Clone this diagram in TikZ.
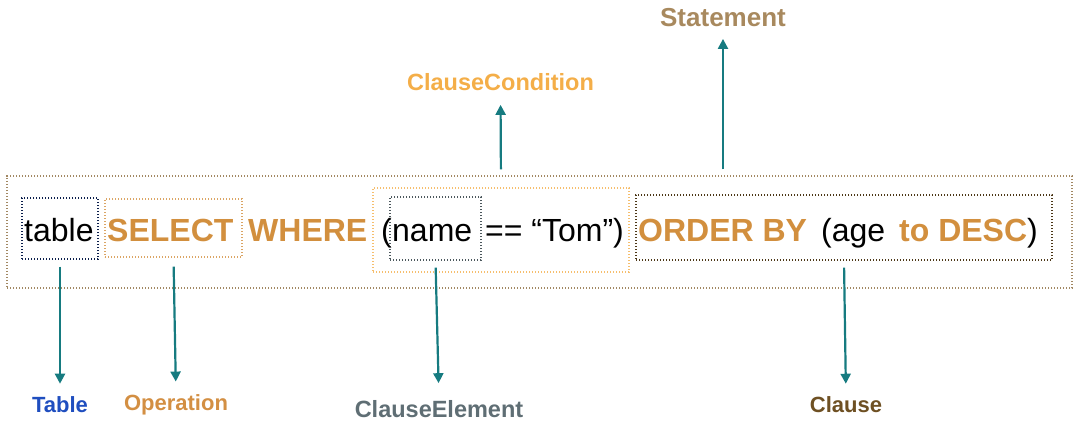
\documentclass[tikz,border=0pt]{standalone}
\usepackage{fontspec}
\setmainfont{Liberation Sans}
\usetikzlibrary{arrows.meta}
\definecolor{kwd}{HTML}{D28F3E}
\definecolor{teal}{HTML}{167B80}
\definecolor{tblc}{HTML}{1F4EBF}
\definecolor{opc}{HTML}{D38F43}
\definecolor{elc}{HTML}{5F6E74}
\definecolor{clc}{HTML}{6E5023}
\definecolor{cdc}{HTML}{F4AE48}
\definecolor{stc}{HTML}{A8895E}
\begin{document}
\begin{tikzpicture}[x=1pt, y=-1pt, >={Triangle[length=10pt,width=10pt]},
  word/.style={anchor=base west, inner sep=0pt, font=\fontsize{32}{38}\selectfont},
  kw/.style={word, font=\fontsize{32}{38}\selectfont\bfseries, text=kwd},
  lbl/.style={inner sep=0pt, font=\fontsize{22}{26}\selectfont\bfseries},
  box/.style={draw=#1, line width=1.3pt, dash pattern=on 1.4pt off 1.6pt, inner sep=0pt},
  arr/.style={->, teal, line width=2.2pt}]
  \useasboundingbox (0,0) rectangle (1080,424);
  % 枠
  \node[box=stc!85!gray, minimum width=1065pt, minimum height=112pt] (stmtB) at (539.5,232) {};
  \node[box=cdc!80!white, minimum width=256pt, minimum height=84pt] (condB) at (501,230) {};
  \node[box=tblc!40!black, minimum width=76pt, minimum height=61pt] (tblB) at (60,228.5) {};
  \node[box=kwd!80!white, minimum width=137pt, minimum height=58pt] (selB) at (173.5,228) {};
  \node[box=elc!80!black, minimum width=91pt, minimum height=63pt] (namB) at (435.5,228.5) {};
  \node[box=clc!70!black, minimum width=416pt, minimum height=65pt] (ordB) at (844,227.5) {};
  % 文
  \node[word] (tbl) at (24,241) {table};
  \node[kw] (sel) at (107,241) {SELECT};
  \node[kw] (whr) at (248,241) {WHERE};
  \node[word] (lpar) at (381,241) {(};
  \node[word] (nam) at (392,241) {name};
  \node[word] (eqs) at (485,241) {== “Tom”)};
  \node[kw] (ord) at (638,241) {ORDER BY};
  \node[word] (age) at (821,241) {(age};
  \node[kw] (todesc) at (899,241) {to DESC};
  \node[word] (rpar) at (1027,241) {)};
  % ラベル
  \node[lbl, text=tblc] (Table) at (60,405) {Table};
  \node[lbl, text=opc] (Operation) at (176,405) {Operation};
  \node[lbl, text=elc, font=\fontsize{23.5}{28}\selectfont\bfseries] (ClauseElement) at (439,409) {ClauseElement};
  \node[lbl, text=clc] (Clause) at (846,405) {Clause};
  \node[lbl, text=cdc, font=\fontsize{23.5}{28}\selectfont\bfseries] (ClauseCondition) at (500.5,82) {ClauseCondition};
  \node[lbl, text=stc, font=\fontsize{26}{30}\selectfont\bfseries] (Statement) at (723,17.5) {Statement};
  % 矢印
  \draw[arr, shorten <=7pt, shorten >=13pt] (tblB.south) -- (Table.north);
  \draw[arr, shorten <=9pt, shorten >=13pt] (selB.south) -- (Operation.north);
  \draw[arr, shorten <=7pt, shorten >=17pt] (namB.south) -- (ClauseElement.north);
  \draw[arr, shorten <=7pt, shorten >=13pt] (ordB.south) -- (Clause.north);
  \draw[arr, shorten <=18pt, shorten >=14pt] (condB.north) -- (ClauseCondition.south);
  \draw[arr, shorten <=6pt, shorten >=12pt] (Statement.south |- stmtB.north) -- (Statement.south);
\end{tikzpicture}
\end{document}
